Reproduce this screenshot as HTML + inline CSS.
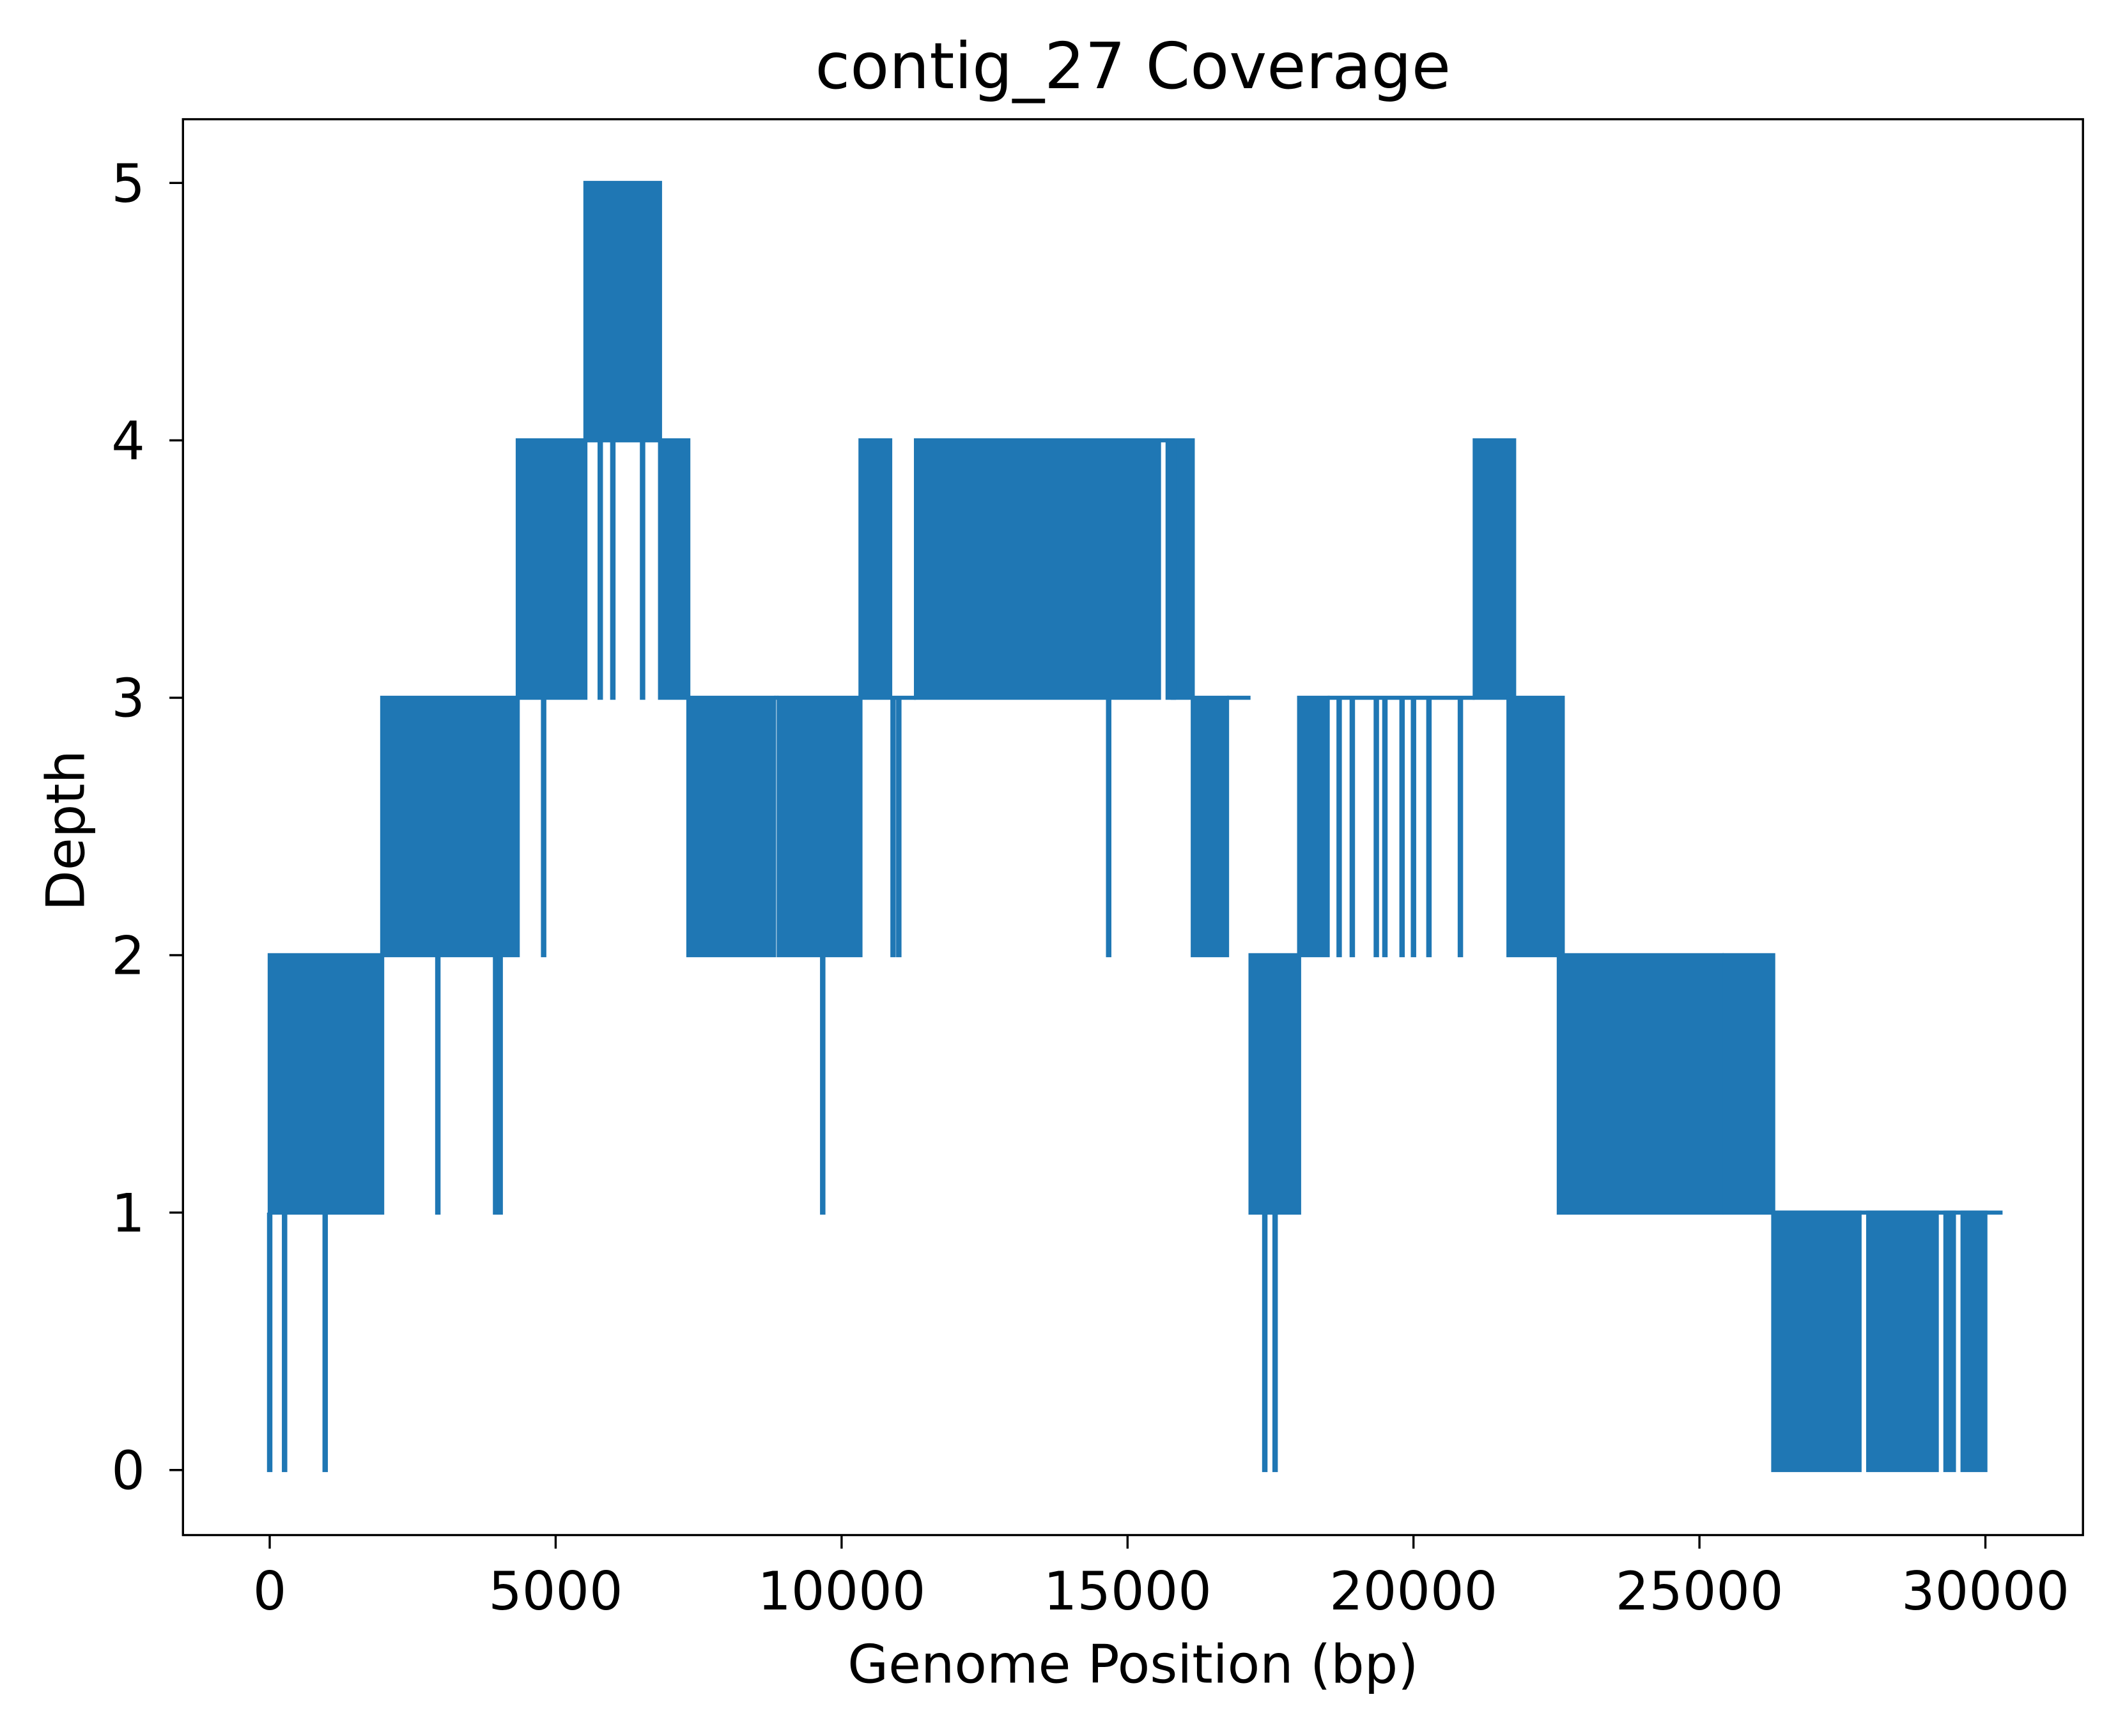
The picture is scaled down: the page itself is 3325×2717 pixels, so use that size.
<!DOCTYPE html>
<html><head><meta charset="utf-8"><style>
html,body{margin:0;padding:0;background:#fff;}
svg{display:block;font-family:"DejaVu Sans","Liberation Sans",sans-serif;}
</style></head><body>
<svg id="chart" width="3325" height="2717" viewBox="0 0 1568 1281.3" xmlns="http://www.w3.org/2000/svg">
<rect x="0" y="0" width="1568" height="1281.3" fill="#fff"/>
<text x="836" y="65" font-size="47" text-anchor="middle">contig_27 Coverage</text>
<g id="marks"></g>
<rect x="135" y="88" width="1402" height="1045" fill="none" stroke="#000" stroke-width="1.6"/>
<g id="xticks"></g>
<g id="yticks"></g>
<text x="836" y="1242" font-size="39" text-anchor="middle">Genome Position (bp)</text>
<text transform="translate(62,613) rotate(-90)" font-size="39" text-anchor="middle">Depth</text>
</svg>
<script>
// band segments: start bp, end bp, low depth, high depth
const segStart = [0,1967,4337,5520,6825,7320,8900,10330,11300,15700,16140,17150,18000,21070,21660,22540,25440,26290,27950,29300,29600];
const segEnd   = [1967,4337,5520,6825,7320,8820,10330,10850,15550,16140,16740,18000,18500,21760,22610,25390,26290,27800,29150,29450,30000];
const segLow   = [1,2,3,4,3,2,2,3,3,3,2,1,2,3,2,1,1,0,0,0,0];
const segHigh  = [2,3,4,5,4,3,3,4,4,4,3,2,3,4,3,2,2,1,1,1,1];
// flat segments: start, end, level
const flatStart = [8820,10850,15550,16740,18500,26290];
const flatEnd   = [8900,11300,15700,17150,21070,30300];
const flatLevel = [3,3,4,3,3,1];
// dips: position, top, bottom
const dipPos    = [0,260,970,2940,3950,4030,4790,5780,6000,6520,9670,10900,11000,14670,17400,17580,18700,18930,19350,19500,19800,20000,20270,20820,15800];
const dipTop    = [1,1,1,2,2,2,3,4,4,4,2,3,3,3,1,1,3,3,3,3,3,3,3,3,4];
const dipBottom = [0,0,0,1,1,1,2,3,3,3,1,2,2,2,0,0,2,2,2,2,2,2,2,2,3];
const xTicks = [0,5000,10000,15000,20000,25000,30000];
const yTicks = [0,1,2,3,4,5];

const NS="http://www.w3.org/2000/svg";
const X = bp => 199 + bp*1266/30000;
const Y = v => 1085 - v*190;
const C = "#1f77b4";
const marks = document.getElementById('marks');
function mk(tag, attrs, parent){const e=document.createElementNS(NS,tag);for(const k in attrs)e.setAttribute(k,attrs[k]);parent.appendChild(e);return e;}

segStart.forEach((s,i)=>{
  const r = mk('rect',{x:X(s)-1.5,y:Y(segHigh[i])-1.5,width:X(segEnd[i])-X(s)+3,height:Y(segLow[i])-Y(segHigh[i])+3,fill:C},marks);
  
  
});
flatStart.forEach((s,i)=>{
  const l = mk('line',{x1:X(s),x2:X(flatEnd[i]),y1:Y(flatLevel[i]),y2:Y(flatLevel[i]),stroke:C,'stroke-width':3},marks);
  
  
});
dipPos.forEach((p,i)=>{
  const l = mk('rect',{x:X(p)-2,y:Y(dipTop[i]),width:4,height:Y(dipBottom[i])-Y(dipTop[i])+1.5,fill:C},marks);
  
  
});

const xg=document.getElementById('xticks');
xTicks.forEach(t=>{
  const l=mk('line',{x1:X(t),x2:X(t),y1:1133,y2:1143,stroke:'#000','stroke-width':1.6},xg);
  
  
  const tx=mk('text',{x:X(t),y:1188,'font-size':39,'text-anchor':'middle'},xg);
  tx.textContent=t;
  
  
});
const yg=document.getElementById('yticks');
yTicks.forEach(t=>{
  const l=mk('line',{x1:125,x2:135,y1:Y(t),y2:Y(t),stroke:'#000','stroke-width':1.6},yg);
  
  
  const tx=mk('text',{x:107,y:Y(t)+14,'font-size':39,'text-anchor':'end'},yg);
  tx.textContent=t;
  
  
});
</script>
</body></html>
